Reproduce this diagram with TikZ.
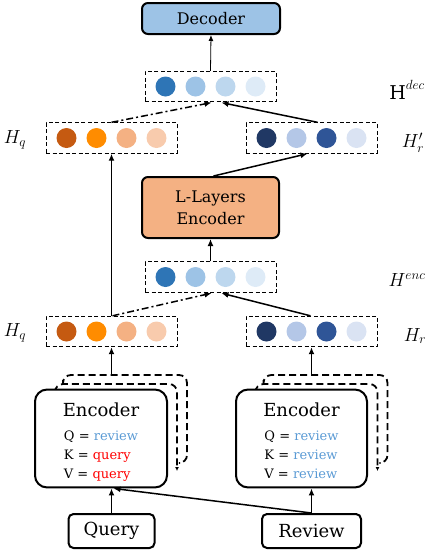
\documentclass[tikz,border=0pt]{standalone}
\usepackage{fix-cm}
\usepackage{fontspec}
\setmainfont{DejaVu Serif}
\usetikzlibrary{positioning,arrows.meta}
\definecolor{decblue}{HTML}{9DC3E6}
\definecolor{encorange}{HTML}{F4B183}
\definecolor{revblue}{HTML}{5B9BD5}
\definecolor{qred}{HTML}{FF0000}
\definecolor{bA}{HTML}{2E75B6}
\definecolor{bB}{HTML}{9DC3E6}
\definecolor{bC}{HTML}{BDD7EE}
\definecolor{bD}{HTML}{DEEBF7}
\definecolor{oA}{HTML}{C55A11}
\definecolor{oB}{HTML}{FF8C00}
\definecolor{oC}{HTML}{F4B183}
\definecolor{oD}{HTML}{F8CBAD}
\definecolor{nA}{HTML}{203864}
\definecolor{nB}{HTML}{B4C7E7}
\definecolor{nC}{HTML}{2F5597}
\definecolor{nD}{HTML}{DAE3F3}
\newcommand{\encsize}{\fontsize{18}{21}\selectfont}
\newcommand{\kvsize}{\fontsize{13}{19}\selectfont}
\tikzset{
    blockbox/.style={draw, line width=2pt, rounded corners=6pt, align=center},
    vecbox/.style={draw, line width=0.9pt, dash pattern=on 4pt off 2.5pt,
        minimum width=131pt, minimum height=30.5pt},
    flow/.style={line width=1.5pt, -{Latex[length=7pt,width=6pt]}},
    dashdotflow/.style={flow, dash pattern=on 7pt off 3pt on 2pt off 3pt},
    stackline/.style={line width=1.8pt, dash pattern=on 7pt off 4pt, rounded corners=8pt},
    hlabel/.style={font=\fontsize{19}{22}\selectfont}
}
% dashed row of four circles
\newcommand{\vecrow}[3]{%
    \node[vecbox] (#1) at (#2) {};
    \foreach \c [count=\i] in {#3}
        \fill[\c] ([xshift=-75pt+30pt*\i]#1.center) circle (10pt);
}

\begin{document}
\begin{tikzpicture}[x=1pt,y=-1pt]
    \useasboundingbox (0,0) rectangle (436,550);
    % boxes
    \node[blockbox, fill=decblue, minimum width=138pt, minimum height=31pt,
        font=\fontsize{16}{19}\selectfont] (dec) at (211,18.5) {Decoder};
    \node[blockbox, fill=encorange, minimum width=137pt, minimum height=61pt,
        font=\fontsize{16}{22}\selectfont] (lenc) at (210.5,207.5) {L-Layers\\Encoder};
    \vecrow{hdec}{210.5,86.5}{bA,bB,bC,bD}
    \vecrow{hqup}{111.5,138}{oA,oB,oC,oD}
    \vecrow{hrup}{311.5,138}{nA,nB,nC,nD}
    \vecrow{henc}{210.5,277}{bA,bB,bC,bD}
    \vecrow{hqlow}{111.5,331.5}{oA,oB,oC,oD}
    \vecrow{hrlow}{311.5,331.5}{nA,nB,nC,nD}
    % stacked encoder layers
    \foreach \ex in {167,367.5}{
        \begin{scope}[shift={(\ex,391)}]
            \draw[stackline, {Latex[length=4pt,width=4pt]}-{Latex[length=4pt,width=4pt]}] (-112,-2) |- (10,-7) -- (10,80);
            \draw[stackline] (-104,-11) |- (20,-16) |- (13,72);
        \end{scope}
    }
    \node[blockbox, fill=white, minimum width=132pt, minimum height=95pt, rounded corners=12pt]
        (encq) at (101,438.5) {\rule{0pt}{24pt}{\encsize Encoder}\\[9pt]\kvsize\begin{tabular}{@{}l@{}}Q = \textcolor{revblue}{review}\\K = \textcolor{qred}{query}\\V = \textcolor{qred}{query}\end{tabular}};
    \node[blockbox, fill=white, minimum width=131pt, minimum height=95pt, rounded corners=12pt]
        (encr) at (301.5,438.5) {\rule{0pt}{24pt}{\encsize Encoder}\\[9pt]\kvsize\begin{tabular}{@{}l@{}}Q = \textcolor{revblue}{review}\\K = \textcolor{revblue}{review}\\V = \textcolor{revblue}{review}\end{tabular}};
    \node[blockbox, rounded corners=5pt, minimum width=86pt, minimum height=34pt,
        font=\fontsize{18}{21}\selectfont] (query) at (111.5,531) {Query};
    \node[blockbox, rounded corners=5pt, minimum width=99pt, minimum height=34pt,
        font=\fontsize{18}{21}\selectfont] (review) at (311.5,531) {Review};
    \coordinate (stkq) at (111.5,375);
    \coordinate (stkr) at (311.5,375);
    % labels
    \node[hlabel] (lblhdec) at (407,90) {$\mathrm{H}^{dec}$};
    \node[hlabel] (lblhqup) at (15,140) {$H_q$};
    \node[hlabel] (lblhrup) at (413,143) {$H'_r$};
    \node[hlabel] (lblhenc) at (407,280) {$H^{enc}$};
    \node[hlabel] (lblhqlow) at (15,333) {$H_q$};
    \node[hlabel] (lblhrlow) at (415,336) {$H_r$};
    % arrows
    \draw[flow] (query.north) -- (query.north |- encq.south);
    \draw[flow] (review.north) -- (review.north |- encr.south);
    \draw[flow] (review.north) -- ([xshift=2pt]query.north |- encq.south);
    \draw[flow] (stkq) -- (hqlow.south);
    \draw[flow] (stkr) -- (hrlow.south);
    \draw[flow] (hqlow.north) -- (hqup.south);
    \draw[dashdotflow, shorten >=2pt] ([xshift=1pt]hqlow.north) -- ([xshift=3pt]henc.south);
    \draw[flow, shorten >=2pt] ([xshift=-1pt]hrlow.north) -- ([xshift=9pt]henc.south);
    \draw[flow] (henc.north) -- (lenc.south);
    \draw[flow] ([xshift=3pt]lenc.north) -- ([xshift=-4pt]hrup.south);
    \draw[dashdotflow, shorten >=2pt] (hqup.north) -- ([xshift=3pt]hdec.south);
    \draw[flow, shorten >=2pt] ([xshift=6pt]hrup.north) -- ([xshift=9pt]hdec.south);
    \draw[line width=0.8pt, -{Latex[length=6pt,width=5pt]}] (hdec.north) -- (dec.south);
\end{tikzpicture}
\end{document}
